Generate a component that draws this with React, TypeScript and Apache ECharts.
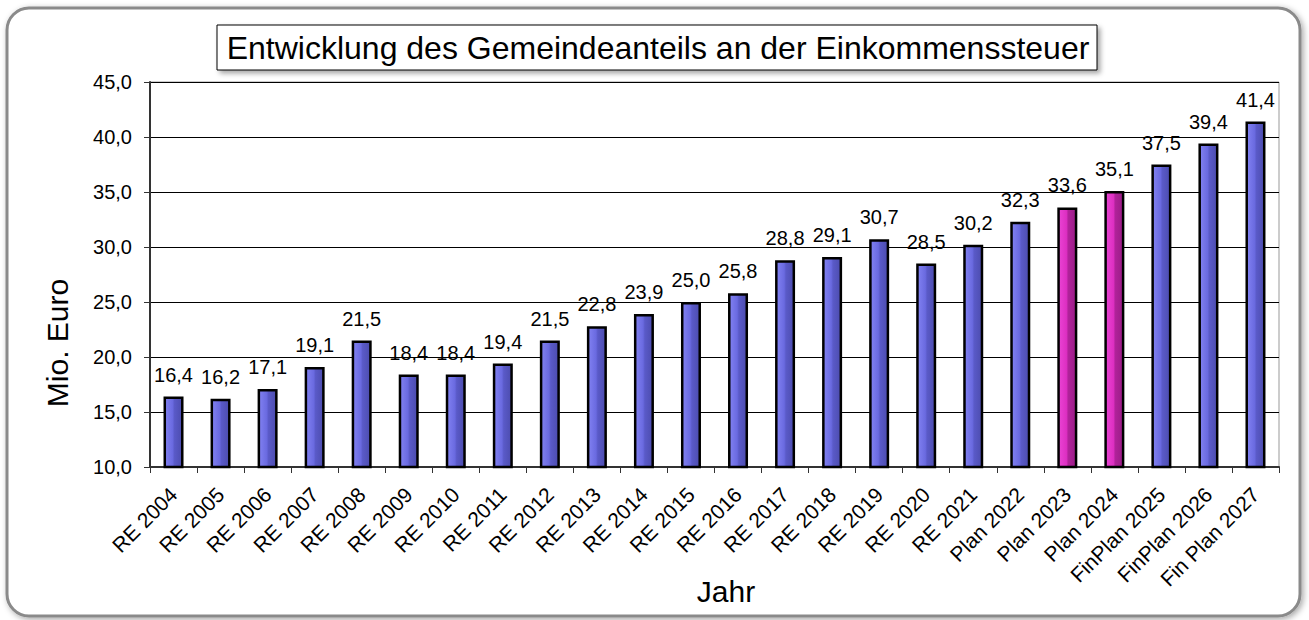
import React, { useEffect, useRef } from "react";
import * as echarts from "echarts";

const categories = [
  "RE 2004", "RE 2005", "RE 2006", "RE 2007", "RE 2008", "RE 2009", "RE 2010", "RE 2011",
  "RE 2012", "RE 2013", "RE 2014", "RE 2015", "RE 2016", "RE 2017", "RE 2018", "RE 2019",
  "RE 2020", "RE 2021", "Plan 2022", "Plan 2023", "Plan 2024", "FinPlan 2025", "FinPlan 2026", "Fin Plan 2027",
];
const values = [
  16.4, 16.2, 17.1, 19.1, 21.5, 18.4, 18.4, 19.4, 21.5, 22.8, 23.9, 25.0, 25.8, 28.8, 29.1, 30.7,
  28.5, 30.2, 32.3, 33.6, 35.1, 37.5, 39.4, 41.4,
];
const highlighted = ["Plan 2023", "Plan 2024"];
const titleText = "Entwicklung des Gemeindeanteils an der Einkommenssteuer";
const yAxisName = "Mio. Euro";
const xAxisName = "Jahr";

const FONT = "Liberation Sans, Arial, sans-serif";

const blueGrad = new echarts.graphic.LinearGradient(0, 0, 1, 0, [
  { offset: 0, color: "#8282f2" },
  { offset: 0.45, color: "#6a6ae0" },
  { offset: 0.55, color: "#5a5ac8" },
  { offset: 1, color: "#4c4cae" },
]);
const pinkGrad = new echarts.graphic.LinearGradient(0, 0, 1, 0, [
  { offset: 0, color: "#ea44d4" },
  { offset: 0.45, color: "#dd2fc2" },
  { offset: 0.55, color: "#b0229a" },
  { offset: 1, color: "#9a1c86" },
]);

export default function App() {
  const ref = useRef<HTMLDivElement>(null);
  useEffect(() => {
    document.body.style.margin = "0";
    const chart = echarts.init(ref.current!, null, { renderer: "svg" });
    chart.setOption({
      animation: false,
      backgroundColor: "#ffffff",
      textStyle: { fontFamily: FONT },
      graphic: [
        {
          type: "rect",
          z: -10,
          shape: { x: 7, y: 8, width: 1293, height: 608, r: 22 },
          style: {
            fill: "#ffffff",
            stroke: "#8a8a8a",
            lineWidth: 3,
            shadowBlur: 6,
            shadowColor: "rgba(0,0,0,0.35)",
            shadowOffsetX: 2,
            shadowOffsetY: 2,
          },
        },
        {
          type: "rect",
          z: 10,
          shape: { x: 217, y: 25, width: 880, height: 45 },
          style: {
            fill: "#ffffff",
            stroke: "#000000",
            lineWidth: 1,
            shadowBlur: 5,
            shadowColor: "rgba(0,0,0,0.35)",
            shadowOffsetX: 3,
            shadowOffsetY: 3,
          },
        },
        {
          type: "text",
          z: 11,
          x: 658,
          y: 48,
          style: {
            text: titleText,
            font: `32px ${FONT}`,
            fill: "#000",
            align: "center",
            verticalAlign: "middle",
          },
        },
        {
          type: "text",
          z: 11,
          x: 57,
          y: 343,
          rotation: Math.PI / 2,
          style: {
            text: yAxisName,
            font: `30px ${FONT}`,
            fill: "#000",
            align: "center",
            verticalAlign: "middle",
          },
        },
        {
          type: "text",
          z: 11,
          x: 726,
          y: 591,
          style: {
            text: xAxisName,
            font: `30px ${FONT}`,
            fill: "#000",
            align: "center",
            verticalAlign: "middle",
          },
        },
      ],
      grid: {
        left: 150,
        right: 30,
        top: 82,
        bottom: 153,
        show: true,
        borderColor: "#999999",
        borderWidth: 1,
        backgroundColor: "transparent",
      },
      xAxis: {
        type: "category",
        data: categories,
        axisLine: { lineStyle: { color: "#333", width: 2 } },
        axisTick: { show: true, alignWithLabel: false, length: 6, lineStyle: { color: "#333", width: 1 } },
        axisLabel: {
          rotate: 45,
          interval: 0,
          fontSize: 21,
          color: "#000",
          margin: 24,
          fontFamily: FONT,
        },
      },
      yAxis: {
        type: "value",
        min: 10,
        max: 45,
        interval: 5,
        axisLine: { show: true, lineStyle: { color: "#333", width: 2 } },
        axisTick: { show: true, length: 6, lineStyle: { color: "#333" } },
        splitLine: { show: true, lineStyle: { color: "#000", width: 1 } },
        axisLabel: {
          fontSize: 20,
          color: "#000",
          margin: 18,
          fontFamily: FONT,
          formatter: (v: number) => v.toFixed(1).replace(".", ","),
        },
      },
      series: [
        {
          type: "bar",
          barWidth: 20,
          data: values.map((v, i) => ({
            value: v,
            itemStyle: {
              color: highlighted.includes(categories[i]) ? pinkGrad : blueGrad,
              borderColor: "#000",
              borderWidth: 2.5,
            },
          })),
          label: {
            show: true,
            position: "top",
            distance: 12,
            fontSize: 20,
            color: "#000",
            fontFamily: FONT,
            formatter: (p: any) => Number(p.value).toFixed(1).replace(".", ","),
          },
        },
      ],
    });
    return () => chart.dispose();
  }, []);
  return <div ref={ref} style={{ width: 1309, height: 620 }} />;
}
